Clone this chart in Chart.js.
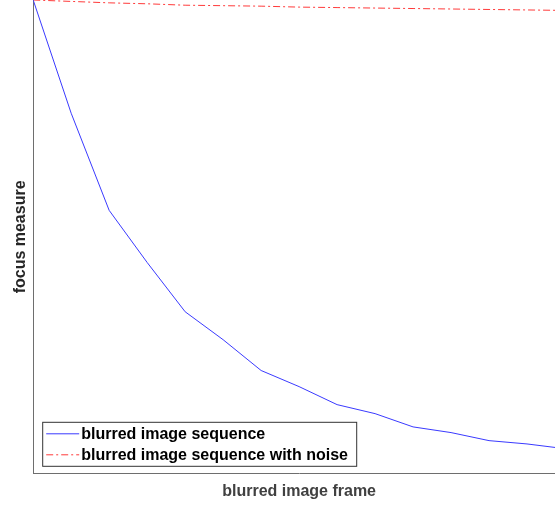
<!DOCTYPE html>
<html>
<head>
<meta charset="utf-8">
<script src="https://cdn.jsdelivr.net/npm/chart.js@4.4.1/dist/chart.umd.min.js"></script>
<style>
  html, body { margin: 0; padding: 0; background: #fff; overflow: hidden; }
  #wrap { width: 565px; height: 505px; }
</style>
</head>
<body>
<div id="wrap"><canvas id="chart" width="565" height="505"></canvas></div>
<script>
// frame index and normalised focus measure
const frames = [1, 2, 3, 4, 5, 6, 7, 8, 9, 10, 11, 12, 13, 14, 15];
const blurred = [1.000, 0.761, 0.556, 0.446, 0.342, 0.283, 0.218, 0.184, 0.146, 0.127, 0.099, 0.087, 0.070, 0.063, 0.053];
const blurredNoise = [1.000, 0.997, 0.994, 0.992, 0.989, 0.988, 0.987, 0.985, 0.984, 0.983, 0.982, 0.981, 0.980, 0.979, 0.978];

const labels = ['blurred image sequence', 'blurred image sequence with noise'];
const axisGrey = '#6e6e6e';
const titleFont = { family: "'Liberation Sans', Arial, sans-serif", size: 16, weight: 'bold', lineHeight: 1.2 };

// legend box drawn inside the plot, bottom-left, MATLAB style
const boxLegend = {
    id: 'boxLegend',
    afterDraw(chart) {
        const { ctx, chartArea } = chart;
        const x0 = chartArea.left + 9;
        const y0 = chartArea.bottom - 52;
        const w = 314, h = 44;
        ctx.save();
        ctx.fillStyle = '#fff';
        ctx.fillRect(x0, y0, w, h);
        ctx.strokeStyle = '#333';
        ctx.lineWidth = 1;
        ctx.strokeRect(x0 + 0.5, y0 + 0.5, w, h);
        ctx.font = "bold 16px 'Liberation Sans', Arial, sans-serif";
        ctx.textBaseline = 'middle';
        chart.data.datasets.forEach((ds, i) => {
            const y = y0 + 12 + i * 21;
            ctx.strokeStyle = ds.borderColor;
            ctx.lineWidth = ds.borderWidth;
            ctx.setLineDash(ds.borderDash || []);
            ctx.beginPath();
            ctx.moveTo(x0 + 4, y);
            ctx.lineTo(x0 + 37, y);
            ctx.stroke();
            ctx.setLineDash([]);
            ctx.fillStyle = '#000';
            ctx.fillText(ds.label, x0 + 39, y + 1);
        });
        ctx.restore();
    },
};

new Chart(document.getElementById('chart'), {
    type: 'line',
    data: {
        datasets: [
            {
                label: labels[0],
                data: frames.map((f, i) => ({ x: f, y: blurred[i] })),
                borderColor: '#3a3aff',
                borderWidth: 1,
                pointRadius: 0,
                tension: 0,
                fill: false,
            },
            {
                label: labels[1],
                data: frames.map((f, i) => ({ x: f, y: blurredNoise[i] })),
                borderColor: '#ff3a3a',
                borderWidth: 1,
                borderDash: [7, 3, 2, 3],
                pointRadius: 0,
                tension: 0,
                fill: false,
            },
        ],
    },
    options: {
        responsive: false,
        animation: false,
        devicePixelRatio: 1,
        layout: { padding: 0 },
        plugins: {
            legend: { display: false },
            tooltip: { enabled: false },
        },
        scales: {
            x: {
                type: 'linear',
                min: 1,
                max: 15,
                ticks: { display: false },
                grid: { display: false, drawTicks: false },
                border: { display: true, color: axisGrey, width: 1 },
                title: {
                    display: true,
                    text: 'blurred image frame',
                    color: '#404040',
                    font: titleFont,
                    padding: { top: 8, bottom: 4 },
                },
            },
            y: {
                min: 0,
                max: 1,
                ticks: { display: false },
                grid: { display: false, drawTicks: false },
                border: { display: true, color: axisGrey, width: 1 },
                title: {
                    display: true,
                    text: 'focus measure',
                    color: '#262626',
                    font: titleFont,
                    padding: { top: 11, bottom: 3 },
                },
            },
        },
    },
    plugins: [boxLegend],
});
</script>
</body>
</html>
